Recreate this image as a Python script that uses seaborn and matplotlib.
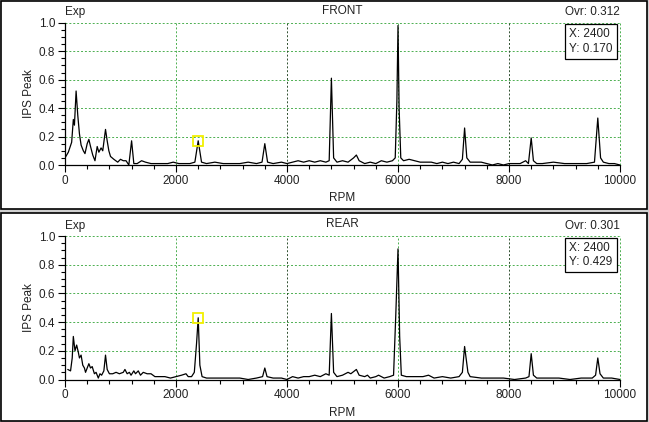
import matplotlib
matplotlib.use("Agg")
import matplotlib.pyplot as plt
import seaborn as sns
import pandas as pd
from matplotlib.patches import Rectangle
from matplotlib.ticker import MultipleLocator

# spectre FRONT
front_rpm = [0, 60, 120, 150, 170, 200, 230, 260, 290, 330, 360, 400, 430, 460, 500, 540, 580, 610,
             650, 680, 730, 760, 790, 820, 880, 950, 1000, 1050, 1100, 1150, 1200, 1240, 1300, 1380,
             1450, 1550, 1650, 1750, 1850, 1950, 2050, 2150, 2250, 2340, 2400, 2460, 2550, 2700,
             2850, 3000, 3150, 3300, 3450, 3550, 3600, 3650, 3750, 3900, 4000, 4100, 4200, 4300,
             4400, 4500, 4600, 4700, 4760, 4800, 4840, 4900, 5000, 5100, 5200, 5250, 5300, 5400,
             5500, 5600, 5700, 5800, 5900, 5950, 5980, 6000, 6020, 6050, 6100, 6200, 6300, 6400,
             6500, 6600, 6700, 6800, 6900, 7000, 7100, 7160, 7200, 7240, 7300, 7400, 7500, 7600,
             7700, 7800, 7900, 8000, 8100, 8200, 8300, 8350, 8400, 8440, 8500, 8600, 8800, 9000,
             9200, 9400, 9540, 9600, 9650, 9700, 9800, 9900, 10000]
front_ips = [0.05, 0.09, 0.16, 0.32, 0.28, 0.52, 0.35, 0.22, 0.14, 0.10, 0.08, 0.15, 0.18, 0.13, 0.07,
             0.03, 0.13, 0.09, 0.12, 0.10, 0.25, 0.17, 0.10, 0.06, 0.04, 0.02, 0.04, 0.03, 0.03, 0.00,
             0.17, 0.01, 0.01, 0.03, 0.02, 0.01, 0.01, 0.01, 0.01, 0.02, 0.01, 0.01, 0.01, 0.02, 0.17,
             0.02, 0.01, 0.02, 0.01, 0.01, 0.01, 0.02, 0.01, 0.02, 0.15, 0.02, 0.01, 0.02, 0.01, 0.02,
             0.03, 0.02, 0.03, 0.02, 0.03, 0.02, 0.03, 0.61, 0.05, 0.02, 0.03, 0.02, 0.05, 0.07, 0.03,
             0.01, 0.02, 0.01, 0.03, 0.02, 0.03, 0.05, 0.45, 0.98, 0.40, 0.05, 0.03, 0.04, 0.03, 0.02,
             0.02, 0.02, 0.01, 0.02, 0.01, 0.02, 0.01, 0.04, 0.26, 0.05, 0.02, 0.02, 0.02, 0.01, 0.00,
             0.01, 0.00, 0.01, 0.01, 0.01, 0.03, 0.01, 0.19, 0.03, 0.01, 0.01, 0.02, 0.01, 0.01, 0.01,
             0.02, 0.33, 0.05, 0.02, 0.01, 0.01, 0.00]

# spectre REAR
rear_rpm = [50, 100, 130, 150, 180, 210, 240, 260, 290, 320, 350, 370, 400, 430, 460, 490, 530, 560,
            600, 630, 660, 700, 730, 760, 800, 860, 920, 980, 1050, 1080, 1120, 1160, 1190, 1240,
            1270, 1320, 1360, 1410, 1480, 1550, 1620, 1700, 1800, 1900, 2000, 2100, 2180, 2220,
            2280, 2330, 2370, 2400, 2430, 2470, 2550, 2700, 2850, 3000, 3150, 3300, 3450, 3560,
            3600, 3640, 3750, 3900, 4000, 4100, 4200, 4300, 4400, 4500, 4600, 4700, 4760, 4800,
            4840, 4900, 5000, 5100, 5150, 5250, 5300, 5400, 5450, 5500, 5600, 5650, 5750, 5850,
            5920, 5960, 6000, 6030, 6060, 6150, 6300, 6450, 6550, 6650, 6800, 6950, 7100, 7160,
            7200, 7260, 7300, 7500, 7700, 7900, 8100, 8300, 8360, 8400, 8440, 8500, 8700, 8900,
            9100, 9300, 9500, 9560, 9600, 9640, 9700, 9850, 10000]
rear_ips = [0.07, 0.06, 0.15, 0.30, 0.20, 0.24, 0.19, 0.15, 0.17, 0.10, 0.08, 0.05, 0.08, 0.11, 0.08,
            0.09, 0.04, 0.05, 0.01, 0.04, 0.03, 0.06, 0.17, 0.07, 0.04, 0.04, 0.05, 0.04, 0.05, 0.07,
            0.04, 0.05, 0.03, 0.06, 0.04, 0.06, 0.03, 0.05, 0.04, 0.04, 0.02, 0.02, 0.02, 0.01, 0.02,
            0.03, 0.04, 0.02, 0.02, 0.05, 0.25, 0.43, 0.10, 0.02, 0.01, 0.01, 0.01, 0.01, 0.01, 0.00,
            0.01, 0.02, 0.08, 0.02, 0.01, 0.01, 0.00, 0.02, 0.01, 0.02, 0.02, 0.03, 0.02, 0.04, 0.03,
            0.46, 0.05, 0.02, 0.03, 0.05, 0.04, 0.07, 0.03, 0.02, 0.03, 0.01, 0.02, 0.03, 0.01, 0.02,
            0.03, 0.45, 0.91, 0.30, 0.03, 0.02, 0.02, 0.02, 0.03, 0.01, 0.02, 0.01, 0.02, 0.05, 0.23,
            0.05, 0.02, 0.01, 0.01, 0.01, 0.00, 0.01, 0.02, 0.18, 0.03, 0.01, 0.01, 0.01, 0.00, 0.01,
            0.01, 0.03, 0.15, 0.04, 0.01, 0.01, 0.00]

titles = ["FRONT", "REAR"]
overall = ["Ovr: 0.312", "Ovr: 0.301"]
cursor_x = [2400, 2400]
cursor_y = [0.170, 0.429]

sns.set_style("white")
plt.rcParams['font.family'] = ['Liberation Sans', 'DejaVu Sans']
plt.rcParams['font.size'] = 8.5
txt = "#222222"

W, H = 649, 422
fig = plt.figure(figsize=(W / 100, H / 100), dpi=100)
fig.patch.set_facecolor("#d0d0d0")

# cadres des deux panneaux (pixels -> figure)
panels = [(1, 1, 647, 209), (1, 213, 647, 421)]
axes_px = [(65, 22.7, 620, 165), (65, 236, 620, 379.5)]
series = [(front_rpm, front_ips), (rear_rpm, rear_ips)]

for i in range(2):
    x0, y0, x1, y1 = panels[i]
    fig.add_artist(Rectangle((x0 / W, 1 - y1 / H), (x1 - x0) / W, (y1 - y0) / H,
                             transform=fig.transFigure, facecolor="white",
                             edgecolor="black", linewidth=1.2, zorder=-10))
    ax0, ay0, ax1, ay1 = axes_px[i]
    ax = fig.add_axes([ax0 / W, 1 - ay1 / H, (ax1 - ax0) / W, (ay1 - ay0) / H])
    ax.set_zorder(1)
    ax.patch.set_alpha(0)

    df = pd.DataFrame({"RPM": series[i][0], "IPS Peak": series[i][1]})
    sns.lineplot(data=df, x="RPM", y="IPS Peak", ax=ax, color="black", linewidth=0.9)
    ax.plot([cursor_x[i]], [cursor_y[i]], marker="s", markersize=7, markerfacecolor="none",
            markeredgecolor="#f2f000", markeredgewidth=1.3, zorder=5)

    ax.set_xlim(0, 10000)
    ax.set_ylim(0, 1.0)
    ax.xaxis.set_major_locator(MultipleLocator(2000))
    ax.xaxis.set_minor_locator(MultipleLocator(400))
    ax.yaxis.set_ticks([0, 0.2, 0.4, 0.6, 0.8, 1.0])
    ax.set_yticklabels([f"{v:.1f}" for v in [0, 0.2, 0.4, 0.6, 0.8, 1.0]])
    ax.yaxis.set_minor_locator(MultipleLocator(0.05))
    ax.tick_params(which="major", direction="out", length=5, width=0.8, colors="black",
                   labelcolor=txt, labelsize=8.5, pad=2, left=True, bottom=True)
    ax.tick_params(which="minor", direction="out", length=3, width=0.8, colors="black",
                   left=True, bottom=True)

    for yv in [0.2, 0.4, 0.6, 0.8, 1.0]:
        ax.axhline(yv, color="#4caf50", linestyle=(0, (2, 2)), linewidth=0.7, zorder=0.5,
                   clip_on=False)
    for xv in [2000, 4000, 6000, 8000, 10000]:
        col = "#2f4f2f" if xv in (4000, 8000) else "#4caf50"
        ax.axvline(xv, color=col, linestyle=(0, (2, 2)), linewidth=0.7, zorder=0.5,
                   clip_on=False)

    for s in ["top", "right"]:
        ax.spines[s].set_visible(False)
    for s in ["left", "bottom"]:
        ax.spines[s].set_color("black")
        ax.spines[s].set_linewidth(0.9)

    ax.set_xlabel("RPM", color=txt, fontsize=8.5, labelpad=4)
    ax.set_ylabel("IPS Peak", color=txt, fontsize=8.5, labelpad=3)

    ax.text(0.0, 1.03, "Exp", transform=ax.transAxes, ha="left", va="bottom", color=txt)
    ax.text(0.5, 1.04, titles[i], transform=ax.transAxes, ha="center", va="bottom", color=txt)
    ax.text(1.0, 1.03, overall[i], transform=ax.transAxes, ha="right", va="bottom", color=txt)
    ax.text(0.909, 0.96, f"X: {cursor_x[i]}\nY: {cursor_y[i]:.3f}", transform=ax.transAxes,
            ha="left", va="top", color=txt, linespacing=1.25,
            bbox=dict(boxstyle="square,pad=0.35", facecolor="white", edgecolor="black",
                      linewidth=0.9))

fig.savefig("out.png", dpi=100)
